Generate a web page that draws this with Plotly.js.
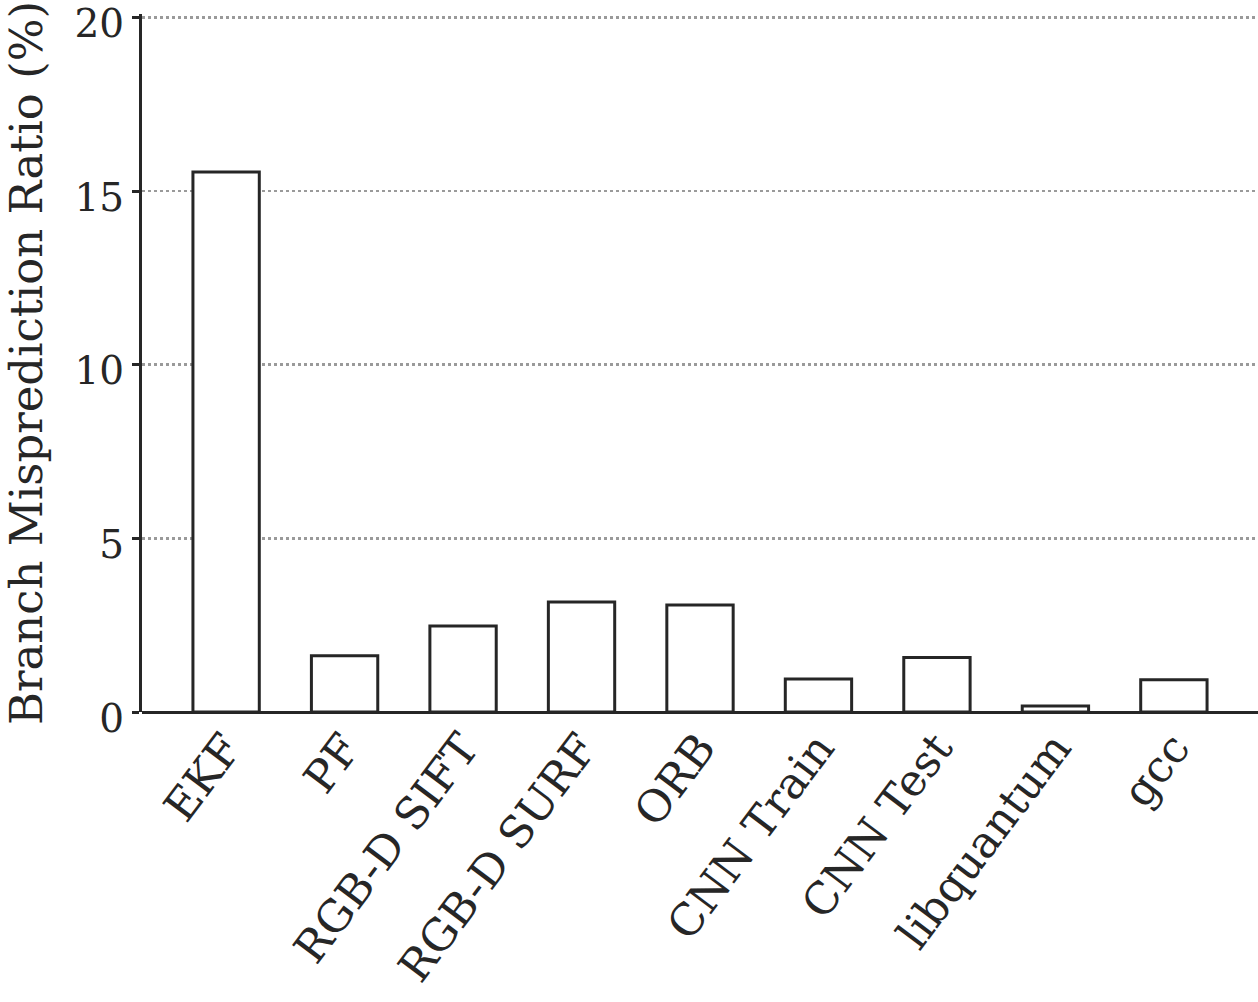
<!DOCTYPE html>
<html><head><meta charset="utf-8">
<script src="https://cdn.plot.ly/plotly-3.0.1.min.js"></script>
<style>html,body{margin:0;padding:0;background:#fff;}#chart{width:1258px;height:1002px;}</style>
</head><body><div id="chart"></div>
<script>
const categories = ["EKF","PF","RGB-D SIFT","RGB-D SURF","ORB","CNN Train","CNN Test","libquantum","gcc"];
const values = [15.55, 1.62, 2.48, 3.17, 3.08, 0.95, 1.57, 0.17, 0.93];
const yTicks = [0,5,10,15,20];

const fontFam = "DejaVu Serif, Liberation Serif, serif";
const trace = {
  type: "bar", x: categories, y: values, width: 0.56,
  marker: {color: "#ffffff", line: {color: "#262626", width: 3}},
  hoverinfo: "x+y"
};
const layout = {
  width: 1258, height: 1002,
  margin: {l: 142, r: 0, t: 14, b: 290},
  paper_bgcolor: "#fff", plot_bgcolor: "#fff",
  showlegend: false,
  font: {family: fontFam, color: "#262626", size: 38},
  xaxis: {
    range: [-0.71, 8.71], tickangle: -53, showgrid: false, zeroline: false,
    showline: false, ticks: "", tickfont: {size: 44, family: fontFam},
    automargin: false
  },
  yaxis: {
    range: [0, 20.1], tickvals: yTicks, ticktext: yTicks.map(String),
    ticklabeloverflow: "allow", ticklabelshift: 6,
    showgrid: true, gridcolor: "#9a9a9a", griddash: "dot", gridwidth: 2.5,
    zeroline: true, zerolinecolor: "#262626", zerolinewidth: 3,
    showline: true, linecolor: "#262626", linewidth: 3,
    ticks: "outside", ticklen: 7, tickwidth: 3, tickcolor: "#262626",
    tickfont: {size: 39, family: fontFam},
    title: {text: "Branch Misprediction Ratio (%)", font: {size: 45, family: fontFam}, standoff: 27},
    automargin: false
  }
};
Plotly.newPlot("chart", [trace], layout, {displayModeBar: false, staticPlot: true});
</script></body></html>
